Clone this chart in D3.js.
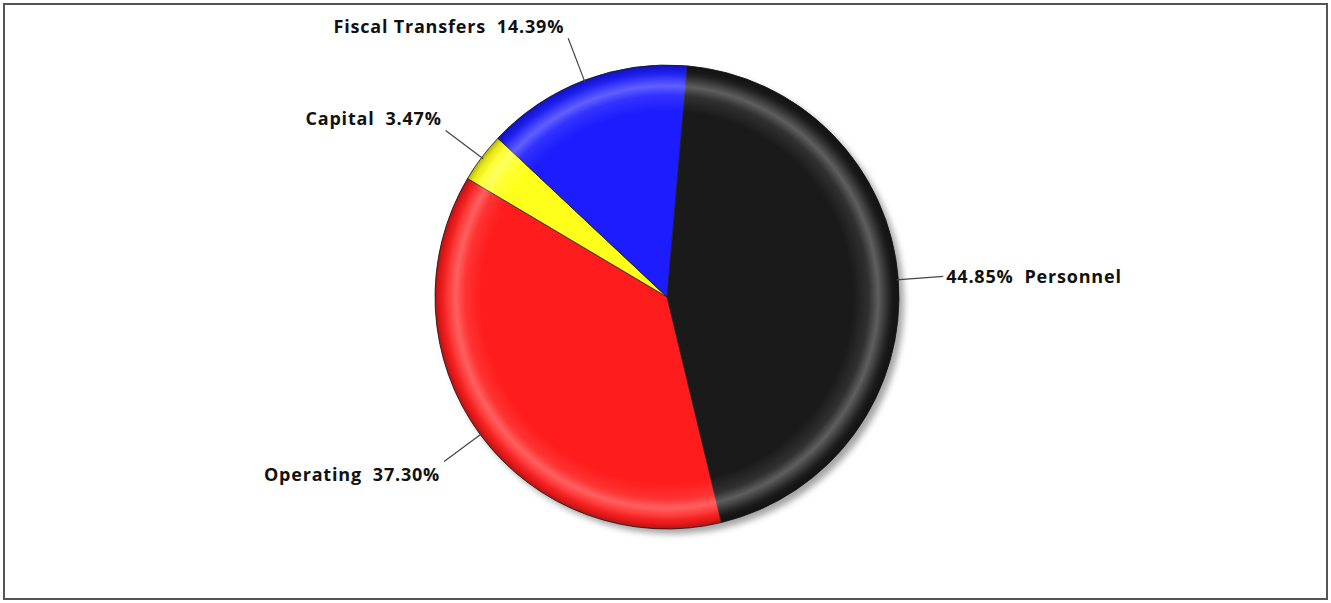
<!DOCTYPE html>
<html>
<head>
<meta charset="utf-8">
<script src="https://d3js.org/d3.v7.min.js"></script>
<style>
body { margin: 0; background: #fff; }
svg { display: block; }
.label { font-family: "Open Sans", "DejaVu Sans", sans-serif; font-weight: bold; font-size: 18px; letter-spacing: 0.8px; fill: #111; white-space: pre; }
.leader { stroke: #444; stroke-width: 1.2px; fill: none; }
</style>
</head>
<body>
<svg width="1331" height="603"></svg>
<script>
// budget shares (%)
let categories = ["Personnel", "Operating", "Capital", "Fiscal Transfers"]
let shares = [44.85, 37.30, 3.47, 14.39]
let colors = ["#1a1a1a", "#ff1c1c", "#ffff1c", "#1c1cff"]

let svg = d3.select("svg")
let W = 1331, H = 603
let cx = 667, cy = 297, R = 232
let startDeg = 5

svg.append("rect")
    .attr("x", 4).attr("y", 4)
    .attr("width", W - 8).attr("height", H - 8)
    .attr("fill", "#fff")
    .attr("stroke", "#555").attr("stroke-width", 2)

let defs = svg.append("defs")

let shadow = defs.append("filter").attr("id", "shadow")
    .attr("x", "-10%").attr("y", "-10%").attr("width", "125%").attr("height", "125%")
shadow.append("feDropShadow")
    .attr("dx", 5).attr("dy", 5).attr("stdDeviation", 3)
    .attr("flood-color", "#000").attr("flood-opacity", 0.35)

// bevel ring near the rim
let bevel = defs.append("radialGradient").attr("id", "bevel")
    .attr("cx", "50%").attr("cy", "50%").attr("r", "50%")
let stops = [
    [0, "#fff", 0],
    [0.80, "#fff", 0],
    [0.87, "#fff", 0.1],
    [0.91, "#fff", 0.3],
    [0.945, "#fff", 0.12],
    [0.975, "#000", 0.08],
    [1, "#000", 0.3]
]
stops.forEach(s => bevel.append("stop")
    .attr("offset", s[0]).attr("stop-color", s[1]).attr("stop-opacity", s[2]))

let data = categories.map((c, i) => ({name: c, value: shares[i], color: colors[i]}))

let pie = d3.pie()
    .sort(null)
    .value(d => d.value)
    .startAngle(startDeg * Math.PI / 180)
    .endAngle((startDeg + 360) * Math.PI / 180)

let arcs = pie(data)
let arc = d3.arc().innerRadius(0).outerRadius(R)

let g = svg.append("g").attr("transform", "translate(" + cx + "," + cy + ")")

g.append("circle").attr("r", R).attr("fill", "#888").attr("filter", "url(#shadow)")

g.selectAll(".slice")
    .data(arcs)
    .enter()
    .append("path")
    .attr("class", "slice")
    .attr("d", arc)
    .attr("fill", d => d.data.color)
    .attr("stroke", "#222")
    .attr("stroke-width", 0.8)

g.append("circle").attr("r", R).attr("fill", "url(#bevel)")

// leader lines and labels
let lead = 45
arcs.forEach(d => {
    let a = (d.startAngle + d.endAngle) / 2
    let sx = Math.sin(a), cy0 = -Math.cos(a)
    let x1 = sx * (R - 2), y1 = cy0 * (R - 2)
    let x2 = sx * (R + lead), y2 = cy0 * (R + lead)
    g.append("line").attr("class", "leader")
        .attr("x1", x1).attr("y1", y1).attr("x2", x2).attr("y2", y2)
    let right = sx > 0
    let dy = Math.abs(cy0) > 0.3 ? (cy0 < 0 ? -12 : 13) : 0
    let pct = d.data.value.toFixed(2) + "%"
    g.append("text").attr("class", "label")
        .attr("x", x2 + (right ? 3 : -4))
        .attr("y", y2 + dy)
        .attr("dy", "0.35em")
        .attr("text-anchor", right ? "start" : "end")
        .text(right ? pct + "  " + d.data.name : d.data.name + "  " + pct)
})
</script>
</body>
</html>
